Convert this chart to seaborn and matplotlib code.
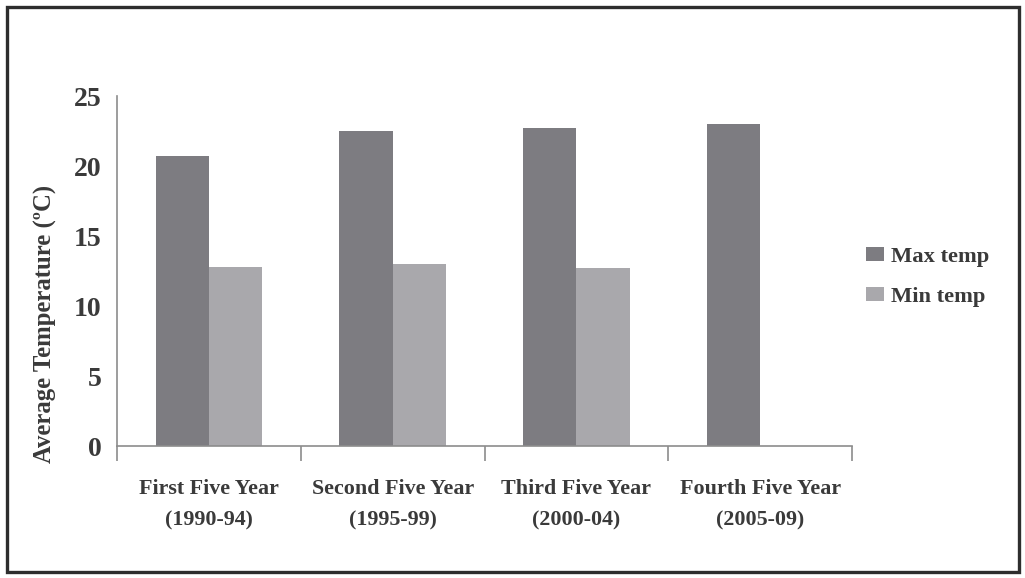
import numpy as np
import pandas as pd
import matplotlib
matplotlib.use("Agg")
import matplotlib.pyplot as plt
from matplotlib.patches import Rectangle, Patch
import seaborn as sns

# Five-year periods and mean temperatures (°C)
periods = ["First Five Year\n(1990-94)", "Second Five Year\n(1995-99)",
           "Third Five Year\n(2000-04)", "Fourth Five Year\n(2005-09)"]
max_temp = [20.7, 22.5, 22.7, 23.0]
min_temp = [12.8, 13.0, 12.75, np.nan]
series = ["Max temp", "Min temp"]
y_ticks = [0, 5, 10, 15, 20, 25]

df = pd.DataFrame({
    "period": periods * 2,
    "series": [series[0]] * 4 + [series[1]] * 4,
    "temp": max_temp + min_temp,
})

sns.set_theme(style="white")
plt.rcParams["font.family"] = ["Liberation Serif", "DejaVu Serif"]
plt.rcParams["font.weight"] = "bold"

text_color = "#3a3a3a"
axis_color = "#8c8c8c"
palette = {"Max temp": "#7d7c81", "Min temp": "#a9a8ac"}

fig = plt.figure(figsize=(10.25, 5.78), dpi=100)
ax = fig.add_axes([117 / 1025, 1 - 446 / 578, (852 - 117) / 1025, (446 - 96) / 578])

sns.barplot(data=df, x="period", y="temp", hue="series", order=periods,
            hue_order=series, palette=palette, width=0.58, saturation=1,
            errorbar=None, ax=ax, legend=False, linewidth=0)

ax.set_xlim(-0.5, 3.5)
ax.set_ylim(0, 25)
ax.set_yticks(y_ticks)
ax.set_yticklabels([str(t) for t in y_ticks], fontsize=20, fontweight="bold",
                   color=text_color)
ax.tick_params(axis="y", length=0, pad=11)

ax.set_xticks(range(len(periods)))
ax.set_xticklabels(periods, fontsize=15.8, fontweight="bold", color=text_color,
                   linespacing=1.75)
ax.tick_params(axis="x", which="major", bottom=False, length=0, pad=24)
ax.set_xticks(np.arange(-0.5, 4.0, 1.0), minor=True)
ax.tick_params(axis="x", which="minor", bottom=True, length=11, width=1.2,
               color=axis_color, direction="out")

for side in ("top", "right"):
    ax.spines[side].set_visible(False)
for side in ("left", "bottom"):
    ax.spines[side].set_color(axis_color)
    ax.spines[side].set_linewidth(1.2)

ax.set_xlabel("")
ax.set_ylabel("Average Temperature (ºC)", fontsize=17.8, fontweight="bold",
              color=text_color)
ax.yaxis.set_label_coords(-0.082, 0.349)

handles = [Patch(facecolor=palette[s], edgecolor="none", label=s) for s in series]
fig.legend(handles=handles, loc="center left", bbox_to_anchor=(846 / 1025, 1 - 277 / 578),
           frameon=False, handlelength=0.8, handleheight=0.6, handletextpad=0.3,
           labelspacing=0.9, prop={"family": "Liberation Serif", "weight": "bold", "size": 16.2},
           labelcolor=text_color)

# Outer border around the whole figure
fig.patches.append(Rectangle((7 / 1025, 6 / 578), 1012 / 1025, 565 / 578,
                             transform=fig.transFigure, fill=False,
                             edgecolor="#2e2e2e", linewidth=2.4, zorder=10))

fig.savefig("out.png", dpi=100, facecolor="white")
